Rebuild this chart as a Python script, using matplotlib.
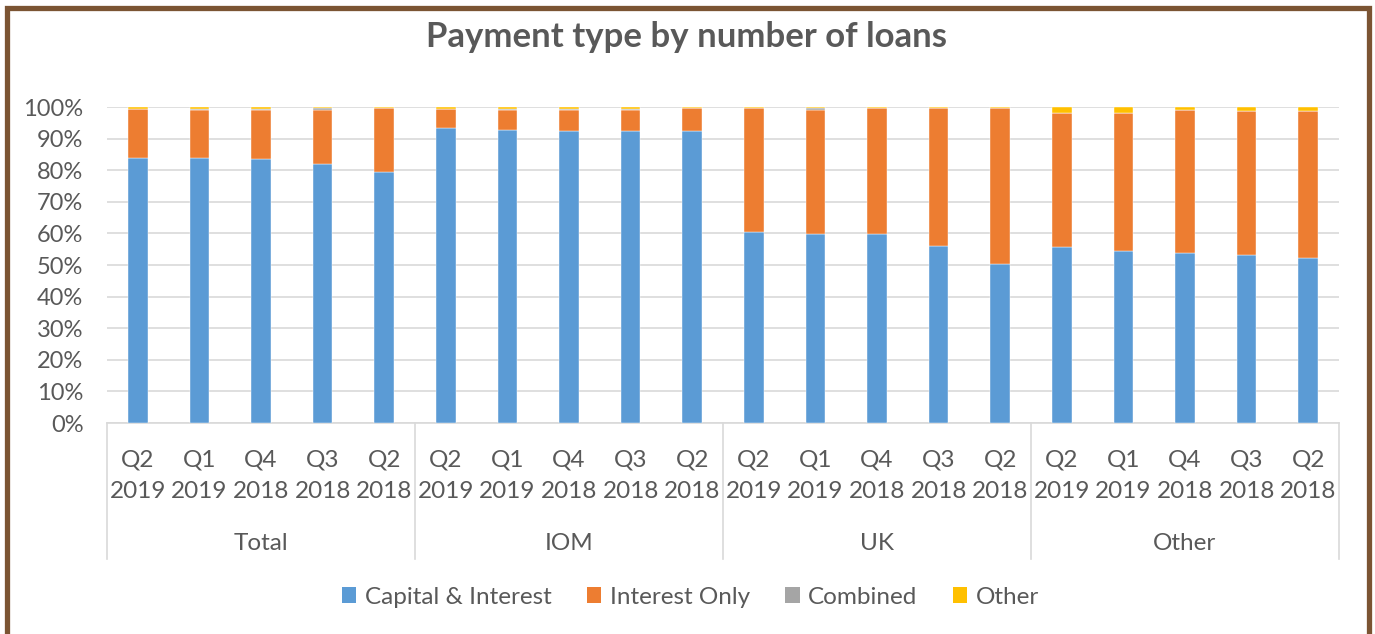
import matplotlib
matplotlib.use("Agg")
import matplotlib.pyplot as plt
from matplotlib.patches import Patch, Rectangle
from matplotlib.lines import Line2D
import matplotlib.transforms as mtransforms

plt.rcParams['font.family'] = ['Lato', 'DejaVu Sans']

groups = ["Total", "IOM", "UK", "Other"]
quarters = ["Q2\n2019", "Q1\n2019", "Q4\n2018", "Q3\n2018", "Q2\n2018"]

capital_interest = [84.0, 84.0, 83.7, 82.0, 79.5,
                    93.3, 92.8, 92.5, 92.5, 92.5,
                    60.3, 59.8, 59.8, 56.0, 50.4,
                    55.6, 54.3, 53.8, 53.1, 52.2]
interest_only = [15.3, 15.2, 15.5, 17.1, 20.3,
                 6.0, 6.4, 6.7, 6.7, 7.3,
                 39.5, 39.4, 40.0, 43.8, 49.4,
                 42.6, 43.9, 45.2, 45.6, 46.5]
combined = [0.2, 0.2, 0.2, 0.6, 0.0,
            0.1, 0.1, 0.1, 0.1, 0.0,
            0.0, 0.6, 0.0, 0.0, 0.0,
            0.0, 0.0, 0.0, 0.0, 0.0]
other = [0.5, 0.6, 0.6, 0.3, 0.2,
         0.6, 0.7, 0.7, 0.7, 0.2,
         0.2, 0.2, 0.2, 0.2, 0.2,
         1.8, 1.8, 1.0, 1.3, 1.3]
series_names = ["Capital & Interest", "Interest Only", "Combined", "Other"]
colors = ["#5B9BD5", "#ED7D31", "#A5A5A5", "#FFC000"]
yticks = [0, 10, 20, 30, 40, 50, 60, 70, 80, 90, 100]

W, H = 1375, 634
FS = 17.5
TXT = "#595959"
fig = plt.figure(figsize=(W / 100, H / 100), dpi=100)
fig.patch.set_facecolor("white")

# brown frame
frame = Rectangle((6.5 / W, -0.2), (1368.5 - 6.5) / W, 1 + 0.2 - 8.5 / H,
                  transform=fig.transFigure, fill=False,
                  edgecolor="#7B5433", linewidth=3.8, zorder=0)
fig.patches.append(frame)

L, R, T, B = 107, 1339, 107, 423
ax = fig.add_axes([L / W, 1 - B / H, (R - L) / W, (B - T) / H])

n = len(capital_interest)
x = list(range(n))
bottom = [0.0] * n
for vals, c, name in zip([capital_interest, interest_only, combined, other], colors, series_names):
    ax.bar(x, vals, width=0.32, bottom=bottom, color=c, label=name, zorder=3,
           edgecolor="white", linewidth=0.3)
    bottom = [b + v for b, v in zip(bottom, vals)]

ax.set_xlim(-0.5, n - 0.5)
ax.set_ylim(0, 100)
ax.set_yticks(yticks)
ax.set_yticklabels([f"{v}%" for v in yticks], fontsize=17, color=TXT)
ax.tick_params(axis="y", length=0, pad=17)
ax.yaxis.grid(True, color="#D9D9D9", linewidth=1.2, zorder=0)
ax.set_axisbelow(True)
for s in ["top", "right", "left"]:
    ax.spines[s].set_visible(False)
ax.spines["bottom"].set_color("#D9D9D9")
ax.spines["bottom"].set_linewidth(1.2)
ax.set_xticks([])

trans = mtransforms.blended_transform_factory(ax.transData, ax.transAxes)
ah = B - T
labels = quarters * len(groups)
for i, lab in enumerate(labels):
    q, yr = lab.split("\n")
    ax.text(i, -(460 - B) / ah, q, transform=trans, ha="center", va="center",
            fontsize=FS, color=TXT)
    ax.text(i, -(491 - B) / ah, yr, transform=trans, ha="center", va="center",
            fontsize=FS, color=TXT)
ng = len(quarters)
for g, name in enumerate(groups):
    ax.text(g * ng + (ng - 1) / 2, -(543 - B) / ah, name, transform=trans,
            ha="center", va="center", fontsize=FS, color=TXT)
for g in range(len(groups) + 1):
    xx = g * ng - 0.5
    ax.add_line(Line2D([xx, xx], [0, -(559 - B) / ah], transform=trans,
                       color="#D9D9D9", linewidth=1.2, clip_on=False))

fig.text(0.499, 1 - 37 / H, "Payment type by number of loans", ha="center", va="center",
         fontsize=25, fontweight="bold", color=TXT)

handles = [Patch(facecolor=c, edgecolor="none") for c in colors]
fig.legend(handles, series_names, loc="center", bbox_to_anchor=(0.502, 1 - 597 / H),
           ncol=4, frameon=False, fontsize=FS, handlelength=0.6, handleheight=0.6,
           handletextpad=0.35, columnspacing=1.45, labelcolor=TXT)

fig.savefig("out.png", dpi=100, facecolor="white")
